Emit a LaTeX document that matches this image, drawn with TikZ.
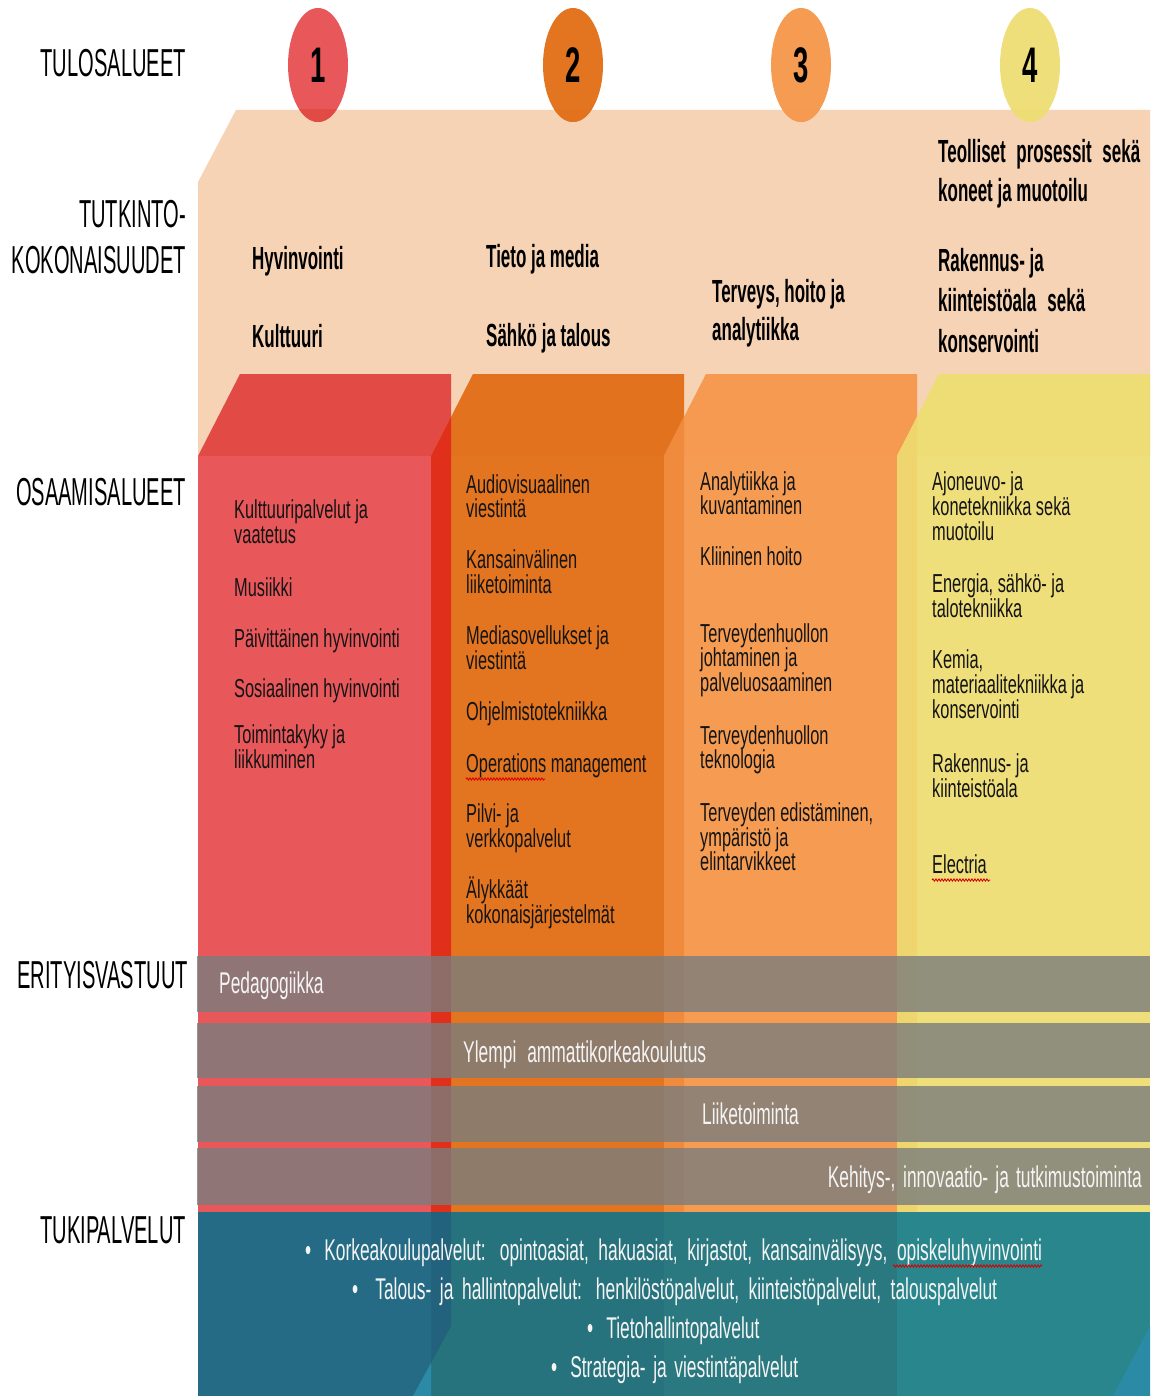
\documentclass[tikz,border=0pt]{standalone}
\usepackage{fontspec}
\setmainfont{Liberation Sans}
\newfontfamily\lblfont{Liberation Sans}[FakeStretch=0.515]
\newfontfamily\hdrfont{Liberation Sans}[FakeStretch=0.53]
\newfontfamily\colfont{Liberation Sans}[FakeStretch=0.63]
\newfontfamily\bandfont{Liberation Sans}[FakeStretch=0.58]
\newfontfamily\numfont{Liberation Sans}[FakeStretch=0.55]
\usetikzlibrary{decorations.pathmorphing}

% palette
\definecolor{peach}{HTML}{F6D3B4}
\definecolor{redF}{HTML}{E8575A}
\definecolor{redT}{HTML}{E24A45}
\definecolor{redO}{HTML}{E0301C}
\definecolor{orgF}{HTML}{E37520}
\definecolor{orgT}{HTML}{E2721E}
\definecolor{orgO}{HTML}{F08A3C}
\definecolor{ltoF}{HTML}{F59C52}
\definecolor{ltoT}{HTML}{F59A50}
\definecolor{ltoO}{HTML}{EFD56E}
\definecolor{yelF}{HTML}{EFDF7A}
\definecolor{yelT}{HTML}{EEDC74}
\definecolor{bandgray}{RGB}{122,125,125}
\definecolor{tealA}{HTML}{256B85}
\definecolor{tealAO}{HTML}{23627C}
\definecolor{tealB}{HTML}{27737D}
\definecolor{tealC}{HTML}{2A7981}
\definecolor{tealD}{HTML}{28868C}
\definecolor{tealL}{HTML}{2B8BA6}
\definecolor{txtwhite}{HTML}{F4F4F4}

% bullet with a fixed gap before the item text
\newcommand{\bul}[1][13pt]{•\hspace{#1}\ignorespaces}

\tikzset{
  lbl/.style={inner sep=0pt, anchor=base east, font=\lblfont\fontsize{39}{39}\selectfont},
  hdr/.style={inner sep=0pt, anchor=base west, font=\hdrfont\bfseries\fontsize{32}{32}\selectfont},
  coltext/.style={inner sep=0pt, anchor=base west, text=black!92, font=\colfont\fontsize{26}{26}\selectfont},
  bandtext/.style={inner sep=0pt, anchor=base west, text=txtwhite, font=\bandfont\fontsize{30}{30}\selectfont},
  numtext/.style={inner sep=0pt, font=\numfont\bfseries\fontsize{50}{50}\selectfont},
  band/.style={fill=bandgray, fill opacity=0.8},
  wavy/.style={draw=red!85!black, line width=0.9pt, decorate,
    decoration={snake, amplitude=1.1pt, segment length=3pt}},
}

\begin{document}
\begin{tikzpicture}[x=1pt, y=1pt]
\useasboundingbox (0,0) rectangle (1155,-1396);
\fill[white] (0,0) rectangle (1155,-1396);

% degree programme layer
\fill[peach] (198,-182) -- (236,-110) -- (1150,-110) -- (1150,-456) -- (198,-456) -- cycle;

% the four result-area columns (top face + front face)
\foreach \xl/\cf/\ct in {198/redF/redT, 431/orgF/orgT, 664/ltoF/ltoT, 897/yelF/yelT} {
  \fill[\ct] (\xl,-456) -- (\xl+42,-374) -- (\xl+253,-374) -- (\xl+253,-456) -- cycle;
  \fill[\cf] (\xl,-456) rectangle (\xl+253,-1212);
}
% where neighbouring columns overlap
\foreach \xl/\co in {431/redO, 664/orgO, 897/ltoO} {
  \fill[\co] (\xl,-456) -- (\xl+20,-417) -- (\xl+20,-1212) -- (\xl,-1212) -- cycle;
}

% result-area numbers
\foreach \cx/\cf/\ct/\n in {318/redF/redT/1, 573/orgF/orgT/2, 801/ltoF/ltoT/3, 1030/yelF/yelT/4} {
  \fill[\cf] (\cx,-65) ellipse [x radius=30pt, y radius=57pt];
  \begin{scope}
    \clip (\cx-40,-110) rectangle (\cx+40,-130);
    \fill[\ct] (\cx,-65) ellipse [x radius=30pt, y radius=57pt];
  \end{scope}
  \node[numtext] (num\n) at (\cx,-65) {\n};
}

% row labels
\node[lbl] (lTulos) at (186,-77) {TULOSALUEET};
\node[lbl] (lTutk) at (186,-228) {TUTKINTO-};
\node[lbl] (lKok) at (186,-274) {KOKONAISUUDET};
\node[lbl] (lOsaa) at (186,-505) {OSAAMISALUEET};
\node[lbl] (lErit) at (188,-988) {ERITYISVASTUUT};
\node[lbl] (lTuki) at (186,-1243) {TUKIPALVELUT};

% degree programmes
\node[hdr] (h1a) at (252,-270) {Hyvinvointi};
\node[hdr] (h1b) at (252,-347) {Kulttuuri};
\node[hdr] (h2a) at (486,-268) {Tieto ja media};
\node[hdr] (h2b) at (486,-346) {Sähkö ja talous};
\node[hdr] (h3a) at (712,-302) {Terveys, hoito ja};
\node[hdr] (h3b) at (712,-340) {analytiikka};
\node[hdr] (h4a) at (938,-163) {\makebox[202pt][s]{Teolliset prosessit sekä}};
\node[hdr] (h4b) at (938,-202) {koneet ja muotoilu};
\node[hdr] (h4c) at (938,-272) {Rakennus- ja};
\node[hdr] (h4d) at (938,-312) {\makebox[147pt][s]{kiinteistöala sekä}};
\node[hdr] (h4e) at (938,-352) {konservointi};

% competence areas
\foreach \y/\t [count=\i] in {518/Kulttuuripalvelut ja, 543/vaatetus, 596/Musiikki,
    647/Päivittäinen hyvinvointi, 697/Sosiaalinen hyvinvointi, 743/Toimintakyky ja, 768/liikkuminen}
  \node[coltext] (ca\i) at (234,-\y) {\t};
\foreach \y/\t [count=\i] in {493/Audiovisuaalinen, 517/viestintä, 568/Kansainvälinen, 593/liiketoiminta,
    644/Mediasovellukset ja, 669/viestintä, 720/Ohjelmistotekniikka, 772/Operations management,
    822/Pilvi- ja, 847/verkkopalvelut, 898/Älykkäät, 923/kokonaisjärjestelmät}
  \node[coltext] (cb\i) at (466,-\y) {\t};
\foreach \y/\t [count=\i] in {490/Analytiikka ja, 514/kuvantaminen, 565/Kliininen hoito,
    642/Terveydenhuollon, 666/johtaminen ja, 691/palveluosaaminen, 744/Terveydenhuollon, 768/teknologia,
    821/{Terveyden edistäminen,}, 846/ympäristö ja, 870/elintarvikkeet}
  \node[coltext] (cc\i) at (700,-\y) {\t};
\foreach \y/\t [count=\i] in {490/Ajoneuvo- ja, 515/konetekniikka sekä, 540/muotoilu,
    592/{Energia, sähkö- ja}, 617/talotekniikka, 668/{Kemia,}, 693/materiaalitekniikka ja,
    718/konservointi, 772/Rakennus- ja, 797/kiinteistöala, 873/Electria}
  \node[coltext] (cd\i) at (932,-\y) {\t};

% special responsibilities
\fill[band] (197,-956) rectangle (1150,-1012);
\fill[band] (197,-1023) rectangle (1150,-1078);
\fill[band] (197,-1086) rectangle (1150,-1142);
\fill[band] (197,-1148) rectangle (1150,-1205);
\node[bandtext] (bPed) at (219,-993) {Pedagogiikka};
\node[bandtext] (bYamk) at (463,-1062) {\makebox[243pt][s]{Ylempi ammattikorkeakoulutus}};
\node[bandtext] (bLiike) at (702,-1124) {Liiketoiminta};
\node[bandtext, anchor=base east] (bTki) at (1142,-1187) {\makebox[314pt][s]{Kehitys-, innovaatio- ja tutkimustoiminta}};

% support services
\fill[tealB] (198,-1212) rectangle (1150,-1396);
\fill[tealA] (198,-1212) rectangle (431,-1396);
\fill[tealAO] (431,-1212) -- (451,-1212) -- (451,-1326) -- (431,-1363) -- cycle;
\fill[tealL] (431,-1363) -- (431,-1396) -- (413,-1396) -- cycle;
\fill[tealC] (664,-1212) rectangle (897,-1396);
\fill[tealD] (897,-1212) rectangle (1150,-1396);
\fill[tealL] (1150,-1326) -- (1150,-1396) -- (1113,-1396) -- cycle;

\node[bandtext] (s1) at (305,-1260) {\makebox[737pt][s]{\bul Korkeakoulupalvelut: opintoasiat, hakuasiat, kirjastot, kansainvälisyys, opiskeluhyvinvointi}};
\node[bandtext] (s2) at (352,-1299) {\makebox[645pt][s]{\bul[17pt] Talous- ja hallintopalvelut: henkilöstöpalvelut, kiinteistöpalvelut, talouspalvelut}};
\node[bandtext] (s3) at (587,-1338) {\bul Tietohallintopalvelut};
\node[bandtext] (s4) at (551,-1377) {\makebox[247pt][s]{\bul Strategia- ja viestintäpalvelut}};

% spell-check marks
\draw[wavy] (893,-1266) -- (1042,-1266);
\draw[wavy] (932,-880) -- (990,-880);
\draw[wavy] (466,-779) -- (545,-779);
\end{tikzpicture}
\end{document}
